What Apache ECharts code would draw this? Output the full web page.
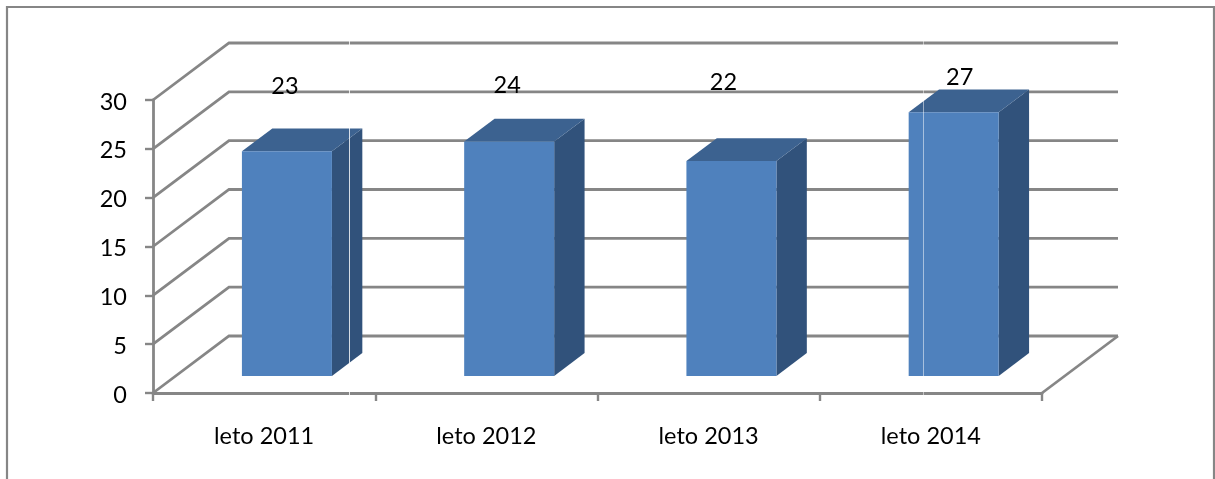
<!DOCTYPE html>
<html><head><meta charset="utf-8">
<style>html,body{margin:0;padding:0;background:#fff}#c{width:1215px;height:479px}</style>
<script src="https://cdn.jsdelivr.net/npm/echarts@6/dist/echarts.min.js"></script>
</head><body><div id="c"></div>
<script>
const categories = ['leto 2011', 'leto 2012', 'leto 2013', 'leto 2014'];
const values = [23, 24, 22, 27];
const yTicks = [0, 5, 10, 15, 20, 25, 30];

const FONT = 'Lato, Carlito, "Open Sans", sans-serif';
const FONT_SIZE = 23.5;
const GREY = '#868686';
const LINE_W = 2.8;
const DEPTH_X = 76, DEPTH_Y = 57;
const BAR_NEAR = 0.3, BAR_FAR = 0.7;
const BAR_WIDTH_FRAC = 0.405;
const labelNudge = [[-2, -65], [-2, -56], [-8, -79], [6, -35]];

const chart = echarts.init(document.getElementById('c'), null, {renderer: 'canvas'});

function renderWall(params, api) {
  const cs = params.coordSys;
  const y = api.coord([0, api.value(0)])[1];
  const x0 = cs.x, x1 = cs.x + cs.width;
  const children = [{
    type: 'polyline',
    shape: {points: [[x0, y], [x0 + DEPTH_X, y - DEPTH_Y], [x1 + DEPTH_X, y - DEPTH_Y]]},
    style: {stroke: GREY, lineWidth: LINE_W, fill: null}
  }];
  if (params.dataIndex === 0) {
    children.push({
      type: 'line',
      shape: {x1: x1, y1: y, x2: x1 + DEPTH_X, y2: y - DEPTH_Y},
      style: {stroke: GREY, lineWidth: LINE_W}
    });
  }
  return {type: 'group', children};
}

function renderBar(params, api) {
  const i = api.value(0), v = api.value(1);
  const base = api.coord([i, 0]);
  const top = api.coord([i, v]);
  const band = api.size([1, 0])[0];
  const w = band * BAR_WIDTH_FRAC;
  const nx = DEPTH_X * BAR_NEAR, ny = DEPTH_Y * BAR_NEAR;
  const fx = DEPTH_X * (BAR_FAR - BAR_NEAR), fy = DEPTH_Y * (BAR_FAR - BAR_NEAR);
  const l = base[0] + nx - w / 2, r = l + w;
  const b = base[1] - ny, t = top[1] - ny;
  return {type: 'group', children: [
    {type: 'polygon', shape: {points: [[r, t], [r + fx, t - fy], [r + fx, b - fy], [r, b]]}, style: {fill: '#31527B'}},
    {type: 'polygon', shape: {points: [[l, t], [l + fx, t - fy], [r + fx, t - fy], [r, t]]}, style: {fill: '#3C6290'}},
    {type: 'rect', shape: {x: l, y: t, width: w, height: b - t}, style: {fill: '#4F81BD'}},
    {type: 'text', style: {
      x: (l + r) / 2 + labelNudge[i][0], y: t + labelNudge[i][1],
      text: String(v), fill: '#000', font: FONT_SIZE + 'px ' + FONT, align: 'center', verticalAlign: 'middle'
    }, z2: 10}
  ]};
}

chart.setOption({
  animation: false,
  backgroundColor: '#fff',
  grid: {left: 153, right: 173, top: 100, bottom: 86},
  xAxis: {
    type: 'category', data: categories,
    axisLine: {lineStyle: {color: GREY, width: LINE_W}},
    axisTick: {show: true, length: 8, lineStyle: {color: GREY, width: 2.4}},
    axisLabel: {color: '#000', fontSize: FONT_SIZE, fontFamily: FONT, margin: 31}
  },
  yAxis: {
    type: 'value', min: 0, max: 30, interval: 5,
    axisLine: {show: true, lineStyle: {color: GREY, width: LINE_W}},
    axisTick: {show: true, length: 8, lineStyle: {color: GREY, width: 2.4}},
    axisLabel: {color: '#000', fontSize: FONT_SIZE, fontFamily: FONT, margin: 26, verticalAlign: 'top', lineHeight: 4},
    splitLine: {show: false}
  },
  series: [
    {type: 'custom', z: 1, silent: true, renderItem: renderWall, data: yTicks.map(t => [t]), encode: {y: 0}, clip: false},
    {type: 'custom', z: 2, silent: true, renderItem: renderBar, data: values.map((v, i) => [i, v]), encode: {x: 0, y: 1}, clip: false}
  ],
  graphic: [
    {type: 'polyline', silent: true, z: 50, shape: {points: [[7, 479], [7, 7], [1214, 7], [1214, 479]]}, style: {stroke: GREY, lineWidth: 2.2, fill: null}},
    {type: 'line', silent: true, z: 40, shape: {x1: 349.5, y1: 30, x2: 349.5, y2: 400}, style: {stroke: '#fff', lineWidth: 1, opacity: 0.8}},
    {type: 'line', silent: true, z: 40, shape: {x1: 923.5, y1: 30, x2: 923.5, y2: 400}, style: {stroke: '#fff', lineWidth: 1, opacity: 0.5}}
  ]
});
</script></body></html>
